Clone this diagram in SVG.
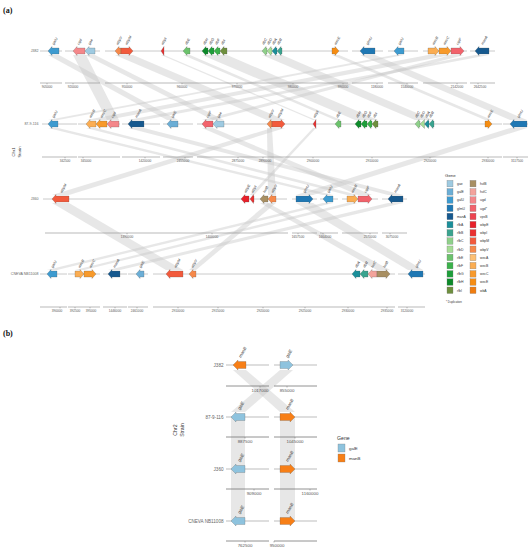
<svg xmlns="http://www.w3.org/2000/svg" width="531" height="550" viewBox="0 0 531 550">
<style>
text{font-family:"Liberation Sans",Arial,sans-serif;}
.pl{font-family:"Liberation Serif","Times New Roman",serif;font-weight:bold;font-size:8px;fill:#111;}
.lk{fill:#c6c6c6;opacity:0.42;}
.tl{stroke:#c4c4c4;stroke-width:0.9;fill:none;}
.ax{stroke:#8a8a8a;stroke-width:0.6;fill:none;}
.axl{font-size:3.2px;fill:#555;text-anchor:middle;}
.tn{font-size:3.6px;fill:#666;text-anchor:end;}
.gl{font-size:3.6px;fill:#333;font-style:italic;}
.gene path{stroke:#555;stroke-width:0.25;}
.yt{font-size:4.2px;fill:#333;text-anchor:middle;}
.lg{font-size:3.4px;fill:#333;}
.lt{font-size:4.4px;fill:#333;}
.lb rect{stroke:#777;stroke-width:0.3;}
.bl{stroke:#bdbdbd;stroke-width:1;fill:none;}
.bax{stroke:#777;stroke-width:0.8;fill:none;}
.baxl{font-size:4.4px;fill:#555;text-anchor:middle;}
.btn{font-size:4.6px;fill:#666;text-anchor:end;}
.bgl{font-size:4.4px;fill:#333;font-style:italic;}
.gae{fill:#9ecae1}.galE{fill:#6baed6}.galU{fill:#3d9bd0}.glmU{fill:#1f78b4}.manA{fill:#16598f}
.rfbA{fill:#1a8f9a}.rfbB{fill:#3aa38f}.rfbC{fill:#8fd08a}.rfbD{fill:#a6dd96}.rfbE{fill:#6cc26c}
.rfbF{fill:#3bb24a}.rfbG{fill:#1e9e3a}.rfbH{fill:#0d8a2a}.rfbI{fill:#6e8f3e}
.hvlB{fill:#a88f62}.hvlC{fill:#f3a39b}.ugd{fill:#f4878a}.ugdS{fill:#f2636c}.vpsB{fill:#ee4450}
.wbpE{fill:#e8202a}.wbpI{fill:#ea3030}.wbpM{fill:#f25a3c}.wbpV{fill:#f6894a}.wecA{fill:#fdc074}
.wecB{fill:#fbad52}.wecC{fill:#f89a2b}.wecE{fill:#f68d12}.wbA{fill:#f07d10}
.bgalE{fill:#8ec3de}.bmanB{fill:#f77f17}
</style>

<text class="pl" x="3" y="13">(a)</text>
<text class="pl" x="3" y="336">(b)</text>

<!-- ===== Panel (a) connectors ===== -->
<g id="connectors-a">
<path class="lk" d="M48 55 L59 55 L178 120 L167 120Z"/>
<path class="lk" d="M73 55 L86 55 L119 120 L107 120Z"/>
<path class="lk" d="M85 55 L95 55 L224 120 L213 120Z"/>
<path class="lk" d="M115 55 L133 55 L285 120 L267 120Z"/>
<path class="lk" d="M161 55 L164 55 L316 120 L313 120Z"/>
<path class="lk" d="M183 55 L190 55 L341 120 L335 120Z"/>
<path class="lk" d="M202 55 L227 55 L378 120 L355 120Z"/>
<path class="lk" d="M262 55 L282 55 L433 120 L415 120Z"/>
<path class="lk" d="M332 55 L339 55 L492 120 L485 120Z"/>
<path class="lk" d="M360 55 L375 55 L527 120 L510 120Z"/>
<path class="lk" d="M394 55 L404 55 L58 120 L48 120Z"/>
<path class="lk" d="M428 55 L451 55 L107 120 L86 120Z"/>
<path class="lk" d="M451 55 L464 55 L213 120 L202 120Z"/>
<path class="lk" d="M475 55 L489 55 L144 120 L128 120Z"/>
<path class="lk" d="M48 128 L58 128 L333 195 L323 195Z"/>
<path class="lk" d="M86 128 L96 128 L358 195 L347 195Z"/>
<path class="lk" d="M128 128 L144 128 L403 195 L388 195Z"/>
<path class="lk" d="M202 128 L213 128 L372 195 L358 195Z"/>
<path class="lk" d="M267 128 L272 128 L276 195 L268 195Z"/>
<path class="lk" d="M272 128 L285 128 L69 195 L52 195Z"/>
<path class="lk" d="M313 128 L316 128 L254 195 L250 195Z"/>
<path class="lk" d="M510 128 L527 128 L313 195 L296 195Z"/>
<path class="lk" d="M52 203 L69 203 L183 270 L166 270Z"/>
<path class="lk" d="M268 203 L276 203 L196 270 L189 270Z"/>
<path class="lk" d="M260 203 L268 203 L390 270 L377 270Z"/>
<path class="lk" d="M296 203 L313 203 L423 270 L408 270Z"/>
<path class="lk" d="M323 203 L333 203 L57 270 L47 270Z"/>
<path class="lk" d="M347 203 L358 203 L84 270 L75 270Z"/>
<path class="lk" d="M388 203 L403 203 L120 270 L108 270Z"/>
</g>

<!-- track lines and axes -->
<g id="tracks-a">
<path class="tl" d="M40 51H62M65 51H100M105 51H348M352 51H383M388 51H418M423 51H467M470 51H495"/>
<path class="tl" d="M42 124H77M78 124H120M122 124H160M163 124H193M197 124H502M503 124H528"/>
<path class="tl" d="M43 199H287M292 199H317M320 199H338M342 199H378M382 199H407"/>
<path class="tl" d="M40 274H67M68 274H100M103 274H127M128 274H148M153 274H395M398 274H425"/>
<text class="tn" x="38.5" y="52.3">J382</text>
<text class="tn" x="38.5" y="125.3">87-9-116</text>
<text class="tn" x="38.5" y="200.3">J360</text>
<text class="tn" x="38.5" y="275.3">CNEVA NB11008</text>
</g>
<g id="axes-a">
<path class="ax" d="M40 83H62M65 83H100M105 83H348M352 83H383M388 83H418M423 83H467M470 83H495"/>
<path class="ax" d="M47 83v1.3M73 83v1.3M127 83v1.3M182 83v1.3M237 83v1.3M293 83v1.3M343 83v1.3M377 83v1.3M407 83v1.3M457 83v1.3M478 83v1.3"/>
<text class="axl" x="47" y="87.5">905000</text><text class="axl" x="73" y="87.5">920000</text>
<text class="axl" x="127" y="87.5">950000</text><text class="axl" x="182" y="87.5">960000</text>
<text class="axl" x="237" y="87.5">970000</text><text class="axl" x="293" y="87.5">980000</text>
<text class="axl" x="343" y="87.5">990000</text><text class="axl" x="377" y="87.5">1180000</text>
<text class="axl" x="407" y="87.5">1540000</text><text class="axl" x="457" y="87.5">2142000</text>
<text class="axl" x="480" y="87.5">2642500</text>

<path class="ax" d="M42 157H77M78 157H120M122 157H160M163 157H193M197 157H502M503 157H528"/>
<path class="ax" d="M65 157v1.3M83 157v1.3M145 157v1.3M185 157v1.3M238 157v1.3M263 157v1.3M313 157v1.3M372 157v1.3M430 157v1.3M488 157v1.3M517 157v1.3"/>
<text class="axl" x="65" y="161.5">342500</text><text class="axl" x="86" y="161.5">345000</text>
<text class="axl" x="145" y="161.5">1420000</text><text class="axl" x="183" y="161.5">2455000</text>
<text class="axl" x="238" y="161.5">2875000</text><text class="axl" x="265" y="161.5">2890000</text>
<text class="axl" x="313" y="161.5">2900000</text><text class="axl" x="372" y="161.5">2910000</text>
<text class="axl" x="430" y="161.5">2920000</text><text class="axl" x="488" y="161.5">2930000</text>
<text class="axl" x="517" y="161.5">3117500</text>

<path class="ax" d="M45 233H288M292 233H317M320 233H338M342 233H378M382 233H407"/>
<path class="ax" d="M127 233v1.3M212 233v1.3M298 233v1.3M323 233v1.3M370 233v1.3M390 233v1.3"/>
<text class="axl" x="127" y="237.5">1390000</text><text class="axl" x="212" y="237.5">1400000</text>
<text class="axl" x="298" y="237.5">1657500</text><text class="axl" x="325" y="237.5">1664000</text>
<text class="axl" x="370" y="237.5">2570000</text><text class="axl" x="392" y="237.5">3075000</text>

<path class="ax" d="M40 307H67M68 307H100M103 307H127M128 307H148M153 307H395M398 307H425"/>
<path class="ax" d="M60 307v1.3M75 307v1.3M90 307v1.3M115 307v1.3M137 307v1.3M178 307v1.3M218 307v1.3M263 307v1.3M305 307v1.3M348 307v1.3M387 307v1.3M407 307v1.3"/>
<text class="axl" x="57" y="311.5">390000</text><text class="axl" x="75" y="311.5">392500</text>
<text class="axl" x="91" y="311.5">395000</text><text class="axl" x="115" y="311.5">1446000</text>
<text class="axl" x="137" y="311.5">2461000</text><text class="axl" x="178" y="311.5">2910000</text>
<text class="axl" x="218" y="311.5">2915000</text><text class="axl" x="263" y="311.5">2920000</text>
<text class="axl" x="305" y="311.5">2925000</text><text class="axl" x="348" y="311.5">2930000</text>
<text class="axl" x="387" y="311.5">2935000</text><text class="axl" x="407" y="311.5">3120000</text>
</g>

<text class="yt" transform="translate(14.5,152) rotate(-90)">Chr1</text>
<text class="yt" transform="translate(20.5,152) rotate(-90)">Strain</text>

<!-- Track 1: J382 -->
<g transform="translate(0,51)">
<g id="t1-galU" class="gene"><path class="galU" d="M59 -3H52V-4.5L48 0L52 4.5V3H59Z"/><text class="gl" transform="translate(54,-6) rotate(-60)">galU</text></g>
<g id="t1-ugd" class="gene"><path class="ugd" d="M85 -3H77V-4.5L73 0L77 4.5V3H85Z"/><text class="gl" transform="translate(79,-6) rotate(-60)">ugd</text></g>
<g id="t1-gae" class="gene"><path class="gae" d="M95 -3H89V-4.5L85 0L89 4.5V3H95Z"/><text class="gl" transform="translate(90,-6) rotate(-60)">gae</text></g>
<g id="t1-wbpV" class="gene"><path class="wbpV" d="M121 -3H119V-4.5L115 0L119 4.5V3H121Z"/><text class="gl" transform="translate(118,-6) rotate(-60)">wbpV</text></g>
<g id="t1-wbpM" class="gene"><path class="wbpM" d="M121 -3H129V-4.5L133 0L129 4.5V3H121Z"/><text class="gl" transform="translate(127,-6) rotate(-60)">wbpM</text></g>
<g id="t1-wbpI" class="gene"><path class="wbpI" d="M164 -4.5L161 0L164 4.5Z"/><text class="gl" transform="translate(163,-6) rotate(-60)">wbpI</text></g>
<g id="t1-rfbE" class="gene"><path class="rfbE" d="M190 -3H187V-4.5L183 0L187 4.5V3H190Z"/><text class="gl" transform="translate(187,-6) rotate(-60)">rfbE</text></g>
<g id="t1-rfbH" class="gene"><path class="rfbH" d="M208 -3H206V-4.5L202 0L206 4.5V3H208Z"/><text class="gl" transform="translate(205,-6) rotate(-60)">rfbH</text></g>
<g id="t1-rfbG" class="gene"><path class="rfbG" d="M214 -3H212V-4.5L208 0L212 4.5V3H214Z"/><text class="gl" transform="translate(211,-6) rotate(-60)">rfbG</text></g>
<g id="t1-rfbF" class="gene"><path class="rfbF" d="M220 -3H218V-4.5L214 0L218 4.5V3H220Z"/><text class="gl" transform="translate(217,-6) rotate(-60)">rfbF</text></g>
<g id="t1-rfbI" class="gene"><path class="rfbI" d="M227 -3H224V-4.5L220 0L224 4.5V3H227Z"/><text class="gl" transform="translate(223,-6) rotate(-60)">rfbI</text></g>
<g id="t1-rfbC" class="gene"><path class="rfbC" d="M267 -3H266V-4.5L262 0L266 4.5V3H267Z"/><text class="gl" transform="translate(264,-6) rotate(-60)">rfbC</text></g>
<g id="t1-rfbD" class="gene"><path class="rfbD" d="M272 -3H271V-4.5L267 0L271 4.5V3H272Z"/><text class="gl" transform="translate(269,-6) rotate(-60)">rfbD</text></g>
<g id="t1-rfbA" class="gene"><path class="rfbA" d="M277 -3H276V-4.5L272 0L276 4.5V3H277Z"/><text class="gl" transform="translate(274,-6) rotate(-60)">rfbA</text></g>
<g id="t1-rfbB" class="gene"><path class="rfbB" d="M282 -3H281V-4.5L277 0L281 4.5V3H282Z"/><text class="gl" transform="translate(279,-6) rotate(-60)">rfbB</text></g>
<g id="t1-wecE" class="gene"><path class="wecE" d="M332 -3H335V-4.5L339 0L335 4.5V3H332Z"/><text class="gl" transform="translate(336,-6) rotate(-60)">wecE</text></g>
<g id="t1-glmU" class="gene"><path class="glmU" d="M375 -3H364V-4.5L360 0L364 4.5V3H375Z"/><text class="gl" transform="translate(368,-6) rotate(-60)">glmU</text></g>
<g id="t1-galU2" class="gene"><path class="galU" d="M404 -3H398V-4.5L394 0L398 4.5V3H404Z"/><text class="gl" transform="translate(400,-6) rotate(-60)">galU</text></g>
<g id="t1-wecB" class="gene"><path class="wecB" d="M428 -3H435V-4.5L439 0L435 4.5V3H428Z"/><text class="gl" transform="translate(434,-6) rotate(-60)">wecB</text></g>
<g id="t1-wecC" class="gene"><path class="wecC" d="M439 -3H447V-4.5L451 0L447 4.5V3H439Z"/><text class="gl" transform="translate(445,-6) rotate(-60)">wecC</text></g>
<g id="t1-ugdS" class="gene"><path class="ugdS" d="M451 -3H460V-4.5L464 0L460 4.5V3H451Z"/><text class="gl" transform="translate(458,-6) rotate(-60)">ugd*</text></g>
<g id="t1-manA" class="gene"><path class="manA" d="M489 -3H479V-4.5L475 0L479 4.5V3H489Z"/><text class="gl" transform="translate(483,-6) rotate(-60)">manA</text></g>
</g>

<!-- Track 2: 87-9-116 -->
<g transform="translate(0,124)">
<g id="t2-galU" class="gene"><path class="galU" d="M58 -3H52V-4.5L48 0L52 4.5V3H58Z"/><text class="gl" transform="translate(54,-6) rotate(-60)">galU</text></g>
<g id="t2-wecB" class="gene"><path class="wecB" d="M96 -3H90V-4.5L86 0L90 4.5V3H96Z"/><text class="gl" transform="translate(91,-6) rotate(-60)">wecB</text></g>
<g id="t2-wecC" class="gene"><path class="wecC" d="M107 -3H100V-4.5L96 0L100 4.5V3H107Z"/><text class="gl" transform="translate(102,-6) rotate(-60)">wecC</text></g>
<g id="t2-ugd" class="gene"><path class="ugd" d="M119 -3H111V-4.5L107 0L111 4.5V3H119Z"/><text class="gl" transform="translate(113,-6) rotate(-60)">ugd</text></g>
<g id="t2-manA" class="gene"><path class="manA" d="M144 -3H132V-4.5L128 0L132 4.5V3H144Z"/><text class="gl" transform="translate(137,-6) rotate(-60)">manA</text></g>
<g id="t2-galE" class="gene"><path class="galE" d="M178 -3H171V-4.5L167 0L171 4.5V3H178Z"/><text class="gl" transform="translate(173,-6) rotate(-60)">galE</text></g>
<g id="t2-ugdS" class="gene"><path class="ugdS" d="M213 -3H206V-4.5L202 0L206 4.5V3H213Z"/><text class="gl" transform="translate(208,-6) rotate(-60)">ugd*</text></g>
<g id="t2-gae" class="gene"><path class="gae" d="M224 -3H217V-4.5L213 0L217 4.5V3H224Z"/><text class="gl" transform="translate(219,-6) rotate(-60)">gae</text></g>
<g id="t2-wbpV" class="gene"><path class="wbpV" d="M272 -3H271V-4.5L267 0L271 4.5V3H272Z"/><text class="gl" transform="translate(270,-6) rotate(-60)">wbpV</text></g>
<g id="t2-wbpM" class="gene"><path class="wbpM" d="M272 -3H281V-4.5L285 0L281 4.5V3H272Z"/><text class="gl" transform="translate(279,-6) rotate(-60)">wbpM</text></g>
<g id="t2-wbpI" class="gene"><path class="wbpI" d="M316 -4.5L313 0L316 4.5Z"/><text class="gl" transform="translate(315,-6) rotate(-60)">wbpI</text></g>
<g id="t2-rfbE" class="gene"><path class="rfbE" d="M341 -3H339V-4.5L335 0L339 4.5V3H341Z"/><text class="gl" transform="translate(338,-6) rotate(-60)">rfbE</text></g>
<g id="t2-rfbH" class="gene"><path class="rfbH" d="M361 -3H359V-4.5L355 0L359 4.5V3H361Z"/><text class="gl" transform="translate(358,-6) rotate(-60)">rfbH</text></g>
<g id="t2-rfbG" class="gene"><path class="rfbG" d="M367 -3H365V-4.5L361 0L365 4.5V3H367Z"/><text class="gl" transform="translate(364,-6) rotate(-60)">rfbG</text></g>
<g id="t2-rfbF" class="gene"><path class="rfbF" d="M372 -3H371V-4.5L367 0L371 4.5V3H372Z"/><text class="gl" transform="translate(369,-6) rotate(-60)">rfbF</text></g>
<g id="t2-rfbI" class="gene"><path class="rfbI" d="M378 -3H376V-4.5L372 0L376 4.5V3H378Z"/><text class="gl" transform="translate(375,-6) rotate(-60)">rfbI</text></g>
<g id="t2-rfbC" class="gene"><path class="rfbC" d="M420 -3H419V-4.5L415 0L419 4.5V3H420Z"/><text class="gl" transform="translate(417,-6) rotate(-60)">rfbC</text></g>
<g id="t2-rfbD" class="gene"><path class="rfbD" d="M424.5 -3V-4.5L420 0L424.5 4.5V3Z"/><text class="gl" transform="translate(422,-6) rotate(-60)">rfbD</text></g>
<g id="t2-rfbA" class="gene"><path class="rfbA" d="M429 -3H428.5V-4.5L424.5 0L428.5 4.5V3H429Z"/><text class="gl" transform="translate(427,-6) rotate(-60)">rfbA</text></g>
<g id="t2-rfbB" class="gene"><path class="rfbB" d="M434 -3H433V-4.5L429 0L433 4.5V3H434Z"/><text class="gl" transform="translate(431,-6) rotate(-60)">rfbB</text></g>
<g id="t2-wecE" class="gene"><path class="wecE" d="M485 -3H488V-4.5L492 0L488 4.5V3H485Z"/><text class="gl" transform="translate(489,-6) rotate(-60)">wecE</text></g>
<g id="t2-glmU" class="gene"><path class="glmU" d="M527 -3H514V-4.5L510 0L514 4.5V3H527Z"/><text class="gl" transform="translate(519,-6) rotate(-60)">glmU</text></g>
</g>

<!-- Track 3: J360 -->
<g transform="translate(0,199)">
<g id="t3-wbpM" class="gene"><path class="wbpM" d="M69 -3H56V-4.5L52 0L56 4.5V3H69Z"/><text class="gl" transform="translate(62,-6) rotate(-60)">wbpM</text></g>
<g id="t3-wbpE" class="gene"><path class="wbpE" d="M249 -3H245V-4.5L241 0L245 4.5V3H249Z"/><text class="gl" transform="translate(246,-6) rotate(-60)">wbpE</text></g>
<g id="t3-wbpI" class="gene"><path class="wbpI" d="M254 -3H253.5V-4.5L250 0L253.5 4.5V3H254Z"/><text class="gl" transform="translate(253,-6) rotate(-60)">wbpI</text></g>
<g id="t3-hvlB" class="gene"><path class="hvlB" d="M268 -3H264V-4.5L260 0L264 4.5V3H268Z"/><text class="gl" transform="translate(265,-6) rotate(-60)">hvlB</text></g>
<g id="t3-wbpV" class="gene"><path class="wbpV" d="M276 -3H272V-4.5L268 0L272 4.5V3H276Z"/><text class="gl" transform="translate(273,-6) rotate(-60)">wbpV</text></g>
<g id="t3-glmU" class="gene"><path class="glmU" d="M296 -3H309V-4.5L313 0L309 4.5V3H296Z"/><text class="gl" transform="translate(305,-6) rotate(-60)">glmU</text></g>
<g id="t3-galU" class="gene"><path class="galU" d="M333 -3H327V-4.5L323 0L327 4.5V3H333Z"/><text class="gl" transform="translate(329,-6) rotate(-60)">galU</text></g>
<g id="t3-wecB" class="gene"><path class="wecB" d="M347 -3H354V-4.5L358 0L354 4.5V3H347Z"/><text class="gl" transform="translate(353,-6) rotate(-60)">wecB</text></g>
<g id="t3-ugdS" class="gene"><path class="ugdS" d="M358 -3H368V-4.5L372 0L368 4.5V3H358Z"/><text class="gl" transform="translate(366,-6) rotate(-60)">ugd*</text></g>
<g id="t3-manA" class="gene"><path class="manA" d="M403 -3H392V-4.5L388 0L392 4.5V3H403Z"/><text class="gl" transform="translate(396,-6) rotate(-60)">manA</text></g>
</g>

<!-- Track 4: CNEVA NB11008 -->
<g transform="translate(0,274)">
<g id="t4-galU" class="gene"><path class="galU" d="M57 -3H51V-4.5L47 0L51 4.5V3H57Z"/><text class="gl" transform="translate(53,-6) rotate(-60)">galU</text></g>
<g id="t4-wecB" class="gene"><path class="wecB" d="M75 -3H80V-4.5L84 0L80 4.5V3H75Z"/><text class="gl" transform="translate(80,-6) rotate(-60)">wecB</text></g>
<g id="t4-wecC" class="gene"><path class="wecC" d="M84 -3H92V-4.5L96 0L92 4.5V3H84Z"/><text class="gl" transform="translate(91,-6) rotate(-60)">wecC</text></g>
<g id="t4-manA" class="gene"><path class="manA" d="M120 -3H112V-4.5L108 0L112 4.5V3H120Z"/><text class="gl" transform="translate(115,-6) rotate(-60)">manA</text></g>
<g id="t4-galE" class="gene"><path class="galE" d="M144 -3H140V-4.5L136 0L140 4.5V3H144Z"/><text class="gl" transform="translate(141,-6) rotate(-60)">galE</text></g>
<g id="t4-wbpM" class="gene"><path class="wbpM" d="M183 -3H170V-4.5L166 0L170 4.5V3H183Z"/><text class="gl" transform="translate(176,-6) rotate(-60)">wbpM</text></g>
<g id="t4-wbpV" class="gene"><path class="wbpV" d="M196 -3H193V-4.5L189 0L193 4.5V3H196Z"/><text class="gl" transform="translate(193,-6) rotate(-60)">wbpV</text></g>
<g id="t4-rfbA" class="gene"><path class="rfbA" d="M360 -3H356V-4.5L352 0L356 4.5V3H360Z"/><text class="gl" transform="translate(357,-6) rotate(-60)">rfbA</text></g>
<g id="t4-rfbB" class="gene"><path class="rfbB" d="M368 -3H364V-4.5L360 0L364 4.5V3H368Z"/><text class="gl" transform="translate(365,-6) rotate(-60)">rfbB</text></g>
<g id="t4-hvlC" class="gene"><path class="hvlC" d="M377 -3H372V-4.5L368 0L372 4.5V3H377Z"/><text class="gl" transform="translate(373,-6) rotate(-60)">hvlC</text></g>
<g id="t4-hvlB" class="gene"><path class="hvlB" d="M377 -3H386V-4.5L390 0L386 4.5V3H377Z"/><text class="gl" transform="translate(385,-6) rotate(-60)">hvlB</text></g>
<g id="t4-glmU" class="gene"><path class="glmU" d="M423 -3H412V-4.5L408 0L412 4.5V3H423Z"/><text class="gl" transform="translate(417,-6) rotate(-60)">glmU</text></g>
</g>

<!-- Legend (a) -->
<g id="legend-a" class="lb">
<text class="lt" x="445" y="176.5">Gene</text>
<rect class="gae" x="447" y="180.4" width="6" height="6.5"/><text class="lg" x="457" y="185">gae</text>
<rect class="galE" x="447" y="188.6" width="6" height="6.5"/><text class="lg" x="457" y="193.2">galE</text>
<rect class="galU" x="447" y="196.8" width="6" height="6.5"/><text class="lg" x="457" y="201.4">galU</text>
<rect class="glmU" x="447" y="205" width="6" height="6.5"/><text class="lg" x="457" y="209.6">glmU</text>
<rect class="manA" x="447" y="213.2" width="6" height="6.5"/><text class="lg" x="457" y="217.8">manA</text>
<rect class="rfbA" x="447" y="221.4" width="6" height="6.5"/><text class="lg" x="457" y="226">rfbA</text>
<rect class="rfbB" x="447" y="229.6" width="6" height="6.5"/><text class="lg" x="457" y="234.2">rfbB</text>
<rect class="rfbC" x="447" y="237.8" width="6" height="6.5"/><text class="lg" x="457" y="242.4">rfbC</text>
<rect class="rfbD" x="447" y="246" width="6" height="6.5"/><text class="lg" x="457" y="250.6">rfbD</text>
<rect class="rfbE" x="447" y="254.2" width="6" height="6.5"/><text class="lg" x="457" y="258.8">rfbE</text>
<rect class="rfbF" x="447" y="262.4" width="6" height="6.5"/><text class="lg" x="457" y="267">rfbF</text>
<rect class="rfbG" x="447" y="270.6" width="6" height="6.5"/><text class="lg" x="457" y="275.2">rfbG</text>
<rect class="rfbH" x="447" y="278.8" width="6" height="6.5"/><text class="lg" x="457" y="283.4">rfbH</text>
<rect class="rfbI" x="447" y="287" width="6" height="6.5"/><text class="lg" x="457" y="291.6">rfbI</text>
<rect class="hvlB" x="470" y="180.4" width="6" height="6.5"/><text class="lg" x="480" y="185">hvlB</text>
<rect class="hvlC" x="470" y="188.6" width="6" height="6.5"/><text class="lg" x="480" y="193.2">hvlC</text>
<rect class="ugd" x="470" y="196.8" width="6" height="6.5"/><text class="lg" x="480" y="201.4">ugd</text>
<rect class="ugdS" x="470" y="205" width="6" height="6.5"/><text class="lg" x="480" y="209.6">ugd*</text>
<rect class="vpsB" x="470" y="213.2" width="6" height="6.5"/><text class="lg" x="480" y="217.8">vpsB</text>
<rect class="wbpE" x="470" y="221.4" width="6" height="6.5"/><text class="lg" x="480" y="226">wbpE</text>
<rect class="wbpI" x="470" y="229.6" width="6" height="6.5"/><text class="lg" x="480" y="234.2">wbpI</text>
<rect class="wbpM" x="470" y="237.8" width="6" height="6.5"/><text class="lg" x="480" y="242.4">wbpM</text>
<rect class="wbpV" x="470" y="246" width="6" height="6.5"/><text class="lg" x="480" y="250.6">wbpV</text>
<rect class="wecA" x="470" y="254.2" width="6" height="6.5"/><text class="lg" x="480" y="258.8">wecA</text>
<rect class="wecB" x="470" y="262.4" width="6" height="6.5"/><text class="lg" x="480" y="267">wecB</text>
<rect class="wecC" x="470" y="270.6" width="6" height="6.5"/><text class="lg" x="480" y="275.2">wecC</text>
<rect class="wecE" x="470" y="278.8" width="6" height="6.5"/><text class="lg" x="480" y="283.4">wecE</text>
<rect class="wbA" x="470" y="287" width="6" height="6.5"/><text class="lg" x="480" y="291.6">wbA</text>
<text class="lg" x="446" y="302.5" style="font-size:2.8px">* Duplication</text>
</g>

<!-- ===== Panel (b) ===== -->
<g id="connectors-b">
<path class="lk" d="M233 370 L246 370 L295 412 L280 412Z"/>
<path class="lk" d="M280 370 L293 370 L245 412 L231 412Z"/>
<rect class="lk" x="231" y="417" width="14" height="104"/>
<rect class="lk" x="280" y="417" width="15" height="104"/>
</g>

<g id="tracks-b">
<path class="bl" d="M226 365H269M274 365H317M226 417H269M274 417H317M226 469H269M274 469H317M226 521H269M274 521H317"/>
<text class="btn" x="223.5" y="366.6">J382</text>
<text class="btn" x="223.5" y="418.6">87-9-116</text>
<text class="btn" x="223.5" y="470.6">J360</text>
<text class="btn" x="223.5" y="522.6">CNEVA NB11008</text>
</g>

<g id="axes-b">
<path class="bax" d="M226 386H269M274 386H317M226 437H269M274 437H317M226 489H269M274 489H317M226 541H269M274 541H317"/>
<path class="bax" d="M260 386v1.5M287 386v1.5M245 437v1.5M295 437v1.5M254 489v1.5M310 489v1.5M245 541v1.5M274 541v1.5" style="stroke-width:0.5"/>
<text class="baxl" x="260" y="392">1017000</text><text class="baxl" x="287" y="392">855000</text>
<text class="baxl" x="245" y="443">887500</text><text class="baxl" x="295" y="443">1045000</text>
<text class="baxl" x="254" y="495">909000</text><text class="baxl" x="310" y="495">1160000</text>
<text class="baxl" x="245" y="547">762500</text><text class="baxl" x="277" y="547">950000</text>
</g>

<text class="yt" transform="translate(176.5,430) rotate(-90)" style="font-size:5.2px">Chr2</text>
<text class="yt" transform="translate(183.5,430) rotate(-90)" style="font-size:5.2px">Strain</text>

<g transform="translate(0,365)">
<g id="b1-manB" class="gene"><path class="bmanB" d="M246 -3.5H238V-5L233 0L238 5V3.5H246Z"/><text class="bgl" transform="translate(241,-7) rotate(-60)">manB</text></g>
<g id="b1-galE" class="gene"><path class="bgalE" d="M280 -3.5H288V-5L293 0L288 5V3.5H280Z"/><text class="bgl" transform="translate(288,-7) rotate(-60)">galE</text></g>
</g>
<g transform="translate(0,417)">
<g id="b2-galE" class="gene"><path class="bgalE" d="M245 -3.5H236V-5L231 0L236 5V3.5H245Z"/><text class="bgl" transform="translate(240,-7) rotate(-60)">galE</text></g>
<g id="b2-manB" class="gene"><path class="bmanB" d="M280 -3.5H290V-5L295 0L290 5V3.5H280Z"/><text class="bgl" transform="translate(288,-7) rotate(-60)">manB</text></g>
</g>
<g transform="translate(0,469)">
<g id="b3-galE" class="gene"><path class="bgalE" d="M245 -3.5H236V-5L231 0L236 5V3.5H245Z"/><text class="bgl" transform="translate(240,-7) rotate(-60)">galE</text></g>
<g id="b3-manB" class="gene"><path class="bmanB" d="M280 -3.5H290V-5L295 0L290 5V3.5H280Z"/><text class="bgl" transform="translate(288,-7) rotate(-60)">manB</text></g>
</g>
<g transform="translate(0,521)">
<g id="b4-galE" class="gene"><path class="bgalE" d="M245 -3.5H236V-5L231 0L236 5V3.5H245Z"/><text class="bgl" transform="translate(240,-7) rotate(-60)">galE</text></g>
<g id="b4-manB" class="gene"><path class="bmanB" d="M280 -3.5H290V-5L295 0L290 5V3.5H280Z"/><text class="bgl" transform="translate(288,-7) rotate(-60)">manB</text></g>
</g>

<g id="legend-b" class="lb">
<text class="lt" x="337" y="440" style="font-size:5.2px">Gene</text>
<rect class="bgalE" x="338" y="444" width="7" height="8"/><text class="lg" x="349" y="449.6" style="font-size:4.4px">galE</text>
<rect class="bmanB" x="338" y="454" width="7" height="8"/><text class="lg" x="349" y="459.6" style="font-size:4.4px">manB</text>
</g>
</svg>
